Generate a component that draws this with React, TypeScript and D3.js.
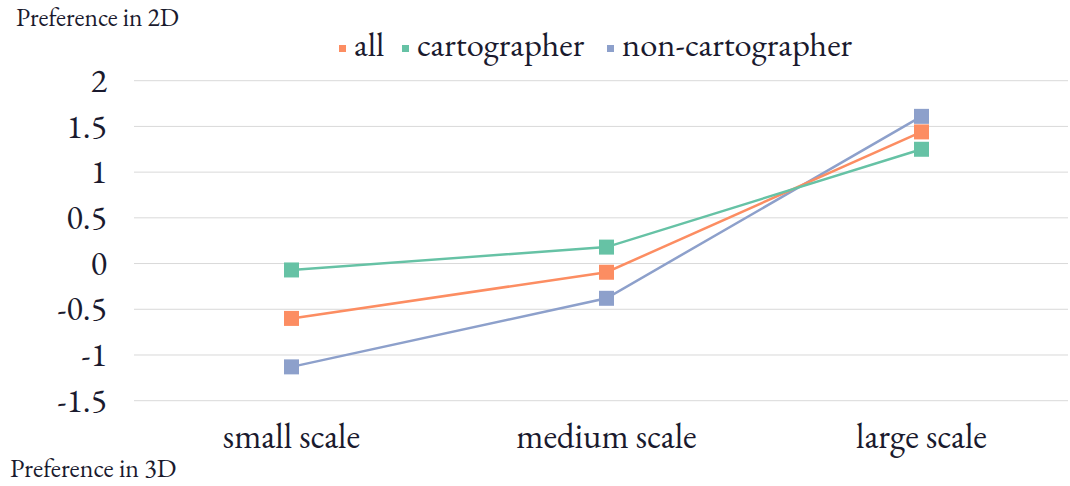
import React from "react";
import * as d3 from "d3";

const categories = ["small scale", "medium scale", "large scale"];
const seriesNames = ["all", "cartographer", "non-cartographer"];
const allValues = [-0.6, -0.095, 1.44];
const cartographerValues = [-0.07, 0.18, 1.25];
const nonCartographerValues = [-1.13, -0.38, 1.61];
const yTicks = [-1.5, -1, -0.5, 0, 0.5, 1, 1.5, 2];
const colors = ["#FC8D62", "#66C2A5", "#8DA0CB"];

const W = 1070;
const H = 486;
const FONT = "Garamond, 'EB Garamond', 'Liberation Serif', 'DejaVu Serif', serif";

export default function App() {
  const x = d3.scaleBand<string>().domain(categories).range([134, 1079]).padding(0);
  const y = d3.scaleLinear().domain([-1.5, 2]).range([400.7, 80.7]);
  const series = [allValues, cartographerValues, nonCartographerValues];
  const line = d3
    .line<number>()
    .x((_, i) => (x(categories[i]) as number) + x.bandwidth() / 2)
    .y((v) => y(v));

  // draw order: non-cartographer below, then all, then cartographer
  const order = [2, 0, 1];
  const legendX = [354, 417, 622];

  return (
    <svg
      width={W}
      height={H}
      style={{ position: "absolute", left: 0, top: 0, background: "#fff" }}
      fontFamily={FONT}
    >
      {yTicks.map((t) => (
        <g key={t}>
          <line x1={134} x2={1068} y1={y(t)} y2={y(t)} stroke="#d9d9d9" strokeWidth={1} />
          <text x={107} y={y(t)} dy="0.33em" textAnchor="end" fontSize={34} fill="#1a1a2e">
            {t}
          </text>
        </g>
      ))}
      {categories.map((c) => (
        <text
          key={c}
          x={(x(c) as number) + x.bandwidth() / 2}
          y={448}
          textAnchor="middle"
          fontSize={35}
          fill="#1a1a2e"
        >
          {c}
        </text>
      ))}
      <text x={16} y={26} fontSize={25.5} fill="#1a1a2e">Preference in 2D</text>
      <text x={10} y={477} fontSize={26} fill="#1a1a2e">Preference in 3D</text>

      {order.map((si) => (
        <path key={"l" + si} d={line(series[si]) || ""} fill="none" stroke={colors[si]} strokeWidth={2.5} />
      ))}
      {order.map((si) =>
        series[si].map((v, i) => (
          <rect
            key={si + "-" + i}
            x={(x(categories[i]) as number) + x.bandwidth() / 2 - 7.5}
            y={y(v) - 7.5}
            width={15}
            height={15}
            fill={colors[si]}
          />
        ))
      )}

      {seriesNames.map((n, i) => (
        <g key={n}>
          <rect x={legendX[i] - 15} y={45} width={7} height={7} fill={colors[i]} />
          <text x={legendX[i]} y={56} fontSize={34.5} fill="#1a1a2e">{n}</text>
        </g>
      ))}
    </svg>
  );
}
